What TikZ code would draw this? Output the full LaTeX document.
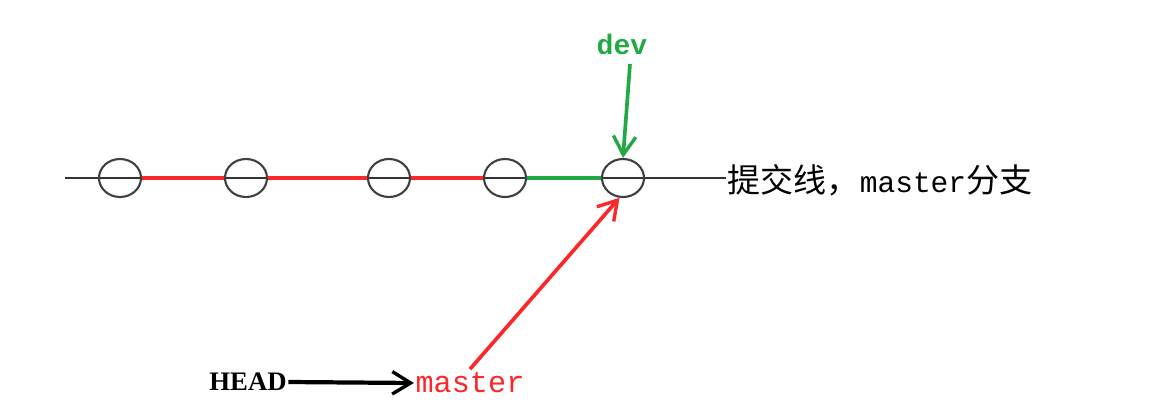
\documentclass[tikz,border=0pt]{standalone}
\usepackage{fontspec}
\setmainfont{Liberation Serif}
\setmonofont{Liberation Mono}
\newfontfamily\cjk{Noto Sans CJK SC}
\usetikzlibrary{arrows.meta,shapes.geometric}

\definecolor{devgreen}{RGB}{34,168,68}
\definecolor{mred}{RGB}{250,40,40}

\begin{document}
\begin{tikzpicture}[
  x=0.025cm, y=-0.025cm,
  commit/.style={ellipse, draw=black!75, line width=1.5pt, fill=none, minimum width=1.05cm, minimum height=0.95cm, inner sep=0pt},
  base/.style={line width=1.2pt, draw=black!80},
  redseg/.style={line width=3.2pt, draw=mred},
  greenseg/.style={line width=3.2pt, draw=devgreen},
  ptr/.style={-{Straight Barb[length=4.6mm, width=5.6mm, line width=2.4pt]}, line width=2.6pt},
  lbl/.style={font=\fontsize{21}{23}\selectfont, inner sep=1pt}
]

\useasboundingbox (0,0) rectangle (1166,408);

% commit line
\coordinate (start) at (65,178);
\node[lbl, anchor=west] (linelbl) at (726,180) {{\cjk\fontsize{23.5}{25}\selectfont 提交线，}\texttt{master}{\cjk\fontsize{23.5}{25}\selectfont 分支}};
\draw[base] (start) -- (linelbl.west |- start);

\node[commit] (c1) at (120,178) {};
\node[commit] (c2) at (246,178) {};
\node[commit] (c3) at (389,178) {};
\node[commit] (c4) at (505,178) {};
\node[commit] (c5) at (623,178) {};

\draw[redseg] (c1.east) -- (c2.west);
\draw[redseg] (c2.east) -- (c3.west);
\draw[redseg] (c3.east) -- (c4.west);
\draw[greenseg] (c4.east) -- (c5.west);

% pointers
\node[lbl, text=devgreen, font=\fontsize{20}{22}\selectfont\ttfamily\bfseries] (dev) at (622,44) {dev};
\draw[ptr, devgreen] ([xshift=0.2cm, yshift=-0.2cm]dev.south) -- (c5.north);

\node[lbl, text=mred, font=\fontsize{21.5}{23}\selectfont\ttfamily] (master) at (470,383) {master};
\draw[ptr, mred] ([yshift=0.05cm]master.north) -- (c5.-100);

\node[lbl, font=\fontsize{19}{21}\selectfont\bfseries] (head) at (248,382) {HEAD};
\draw[ptr, black, line width=3pt] (head.east) -- (master.west);

\end{tikzpicture}
\end{document}
